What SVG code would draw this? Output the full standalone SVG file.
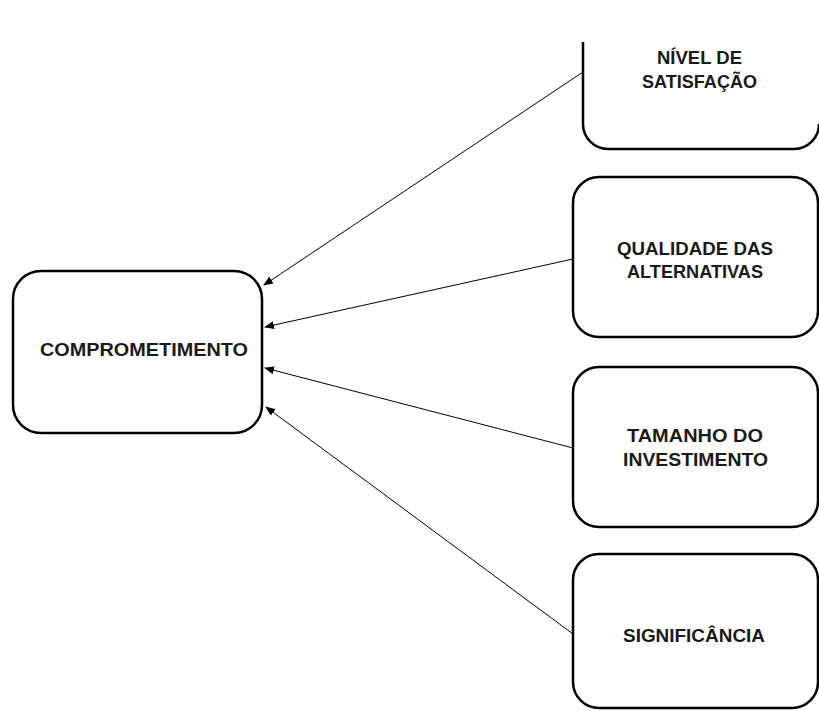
<svg xmlns="http://www.w3.org/2000/svg" width="819" height="711" viewBox="0 0 819 711">
<style>
.box{fill:#fff;stroke:#000;stroke-width:2.5}
.lbl{font-family:"Liberation Sans",Arial,sans-serif;font-weight:bold;font-size:19px;fill:#1a1a1a}
.conn{stroke:#000;stroke-width:1;fill:none;marker-end:url(#ah)}
</style>
<defs>
<marker id="ah" markerWidth="10" markerHeight="8" refX="9" refY="4" orient="auto" markerUnits="userSpaceOnUse">
<path d="M0,0 L10,4 L0,8 Z" fill="#000"/>
</marker>
</defs>
<rect width="819" height="711" fill="#fff"/>
<g id="connectors">
<line class="conn" x1="583" y1="72" x2="264" y2="285"/>
<line class="conn" x1="573" y1="259" x2="265" y2="327"/>
<line class="conn" x1="573" y1="448" x2="265" y2="368"/>
<line class="conn" x1="573" y1="634" x2="266" y2="407"/>
</g>
<g id="comprometimento">
<rect class="box" x="13" y="271" width="249" height="162" rx="28"/>
<text class="lbl" x="40" y="356" textLength="208" lengthAdjust="spacingAndGlyphs">COMPROMETIMENTO</text>
</g>
<g id="nivel-satisfacao">
<path class="box" d="M583,42 V124 A25,25 0 0 0 608,149 H794 A25,25 0 0 0 819,124"/>
<text class="lbl" x="657" y="64" textLength="85" lengthAdjust="spacingAndGlyphs">NÍVEL DE</text>
<text class="lbl" x="642" y="88" textLength="115" lengthAdjust="spacingAndGlyphs">SATISFAÇÃO</text>
</g>
<g id="qualidade-alternativas">
<rect class="box" x="573" y="177" width="245" height="160" rx="26"/>
<text class="lbl" x="617" y="255" textLength="156" lengthAdjust="spacingAndGlyphs">QUALIDADE DAS</text>
<text class="lbl" x="627" y="278" textLength="136" lengthAdjust="spacingAndGlyphs">ALTERNATIVAS</text>
</g>
<g id="tamanho-investimento">
<rect class="box" x="573" y="367" width="245" height="160" rx="26"/>
<text class="lbl" x="627" y="442" textLength="136" lengthAdjust="spacingAndGlyphs">TAMANHO DO</text>
<text class="lbl" x="623" y="466" textLength="145" lengthAdjust="spacingAndGlyphs">INVESTIMENTO</text>
</g>
<g id="significancia">
<rect class="box" x="573" y="554" width="245" height="154" rx="26"/>
<text class="lbl" x="623" y="642" textLength="142" lengthAdjust="spacingAndGlyphs">SIGNIFICÂNCIA</text>
</g>
</svg>
